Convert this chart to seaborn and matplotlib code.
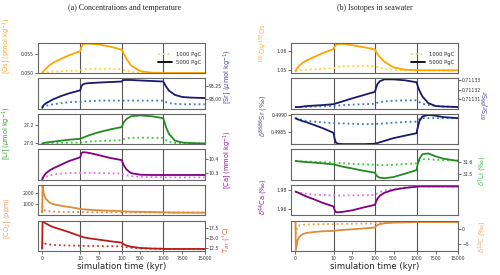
import numpy as np
import matplotlib
matplotlib.use("Agg")
import matplotlib.pyplot as plt
import seaborn as sns
from matplotlib.lines import Line2D
from matplotlib.ticker import FixedLocator, FormatStrFormatter, FuncFormatter

# ---------------- data (time in kyr) ----------------
T = [0, 0.1, 0.5, 1, 2, 3, 5, 7, 10, 12, 15, 20, 30, 50, 75, 100, 120, 150, 200, 300,
     500, 750, 1000, 1200, 1500, 2000, 3000, 5000, 7500, 10000, 15000]

os_5000 = [0.0500, 0.0502, 0.0507, 0.0512, 0.0521, 0.0528, 0.0538, 0.0547, 0.0558, 0.0568, 0.0575,
           0.0578, 0.0578, 0.0576, 0.0570, 0.0562, 0.0557, 0.0550, 0.0538, 0.0520, 0.0505, 0.0501,
           0.0500, 0.0500, 0.0500, 0.0500, 0.0500, 0.0500, 0.0500, 0.0500, 0.0500]
os_1000 = [0.0500, 0.0500, 0.0501, 0.0502, 0.0503, 0.0504, 0.0505, 0.0506, 0.0507, 0.0508, 0.0509,
           0.0510, 0.0511, 0.0511, 0.0511, 0.0510, 0.0509, 0.0508, 0.0506, 0.0503, 0.0501, 0.0500,
           0.0500, 0.0500, 0.0500, 0.0500, 0.0500, 0.0500, 0.0500, 0.0500, 0.0500]
sr_5000 = [92.83, 92.85, 92.89, 92.92, 92.96, 93.00, 93.06, 93.11, 93.17, 93.24, 93.28, 93.30, 93.31,
           93.32, 93.33, 93.34, 93.36, 93.37, 93.37, 93.37, 93.36, 93.35, 93.34, 93.32, 93.29, 93.24,
           93.16, 93.08, 93.04, 93.03, 93.02]
sr_1000 = [92.84, 92.85, 92.86, 92.87, 92.89, 92.90, 92.92, 92.94, 92.95, 92.95, 92.96, 92.96, 92.96,
           92.97, 92.97, 92.97, 92.97, 92.97, 92.97, 92.97, 92.97, 92.97, 92.97, 92.96, 92.95, 92.94,
           92.92, 92.91, 92.90, 92.90, 92.90]
li_5000 = [27.000, 27.000, 27.005, 27.010, 27.015, 27.020, 27.030, 27.040, 27.050, 27.055, 27.060,
           27.070, 27.090, 27.120, 27.150, 27.175, 27.200, 27.230, 27.260, 27.290, 27.300, 27.290,
           27.270, 27.250, 27.220, 27.170, 27.100, 27.030, 27.010, 27.005, 27.000]
li_1000 = [27.000, 27.000, 27.001, 27.002, 27.003, 27.004, 27.006, 27.008, 27.010, 27.011, 27.013,
           27.016, 27.020, 27.026, 27.031, 27.035, 27.040, 27.047, 27.055, 27.060, 27.062, 27.061,
           27.060, 27.055, 27.045, 27.033, 27.018, 27.006, 27.002, 27.001, 27.000]
ca_5000 = [10.255, 10.262, 10.280, 10.298, 10.318, 10.333, 10.358, 10.383, 10.410, 10.438, 10.445,
           10.445, 10.440, 10.425, 10.405, 10.390, 10.372, 10.350, 10.325, 10.298, 10.287, 10.285,
           10.285, 10.285, 10.285, 10.285, 10.285, 10.285, 10.285, 10.285, 10.285]
ca_1000 = [10.255, 10.258, 10.265, 10.273, 10.283, 10.289, 10.295, 10.298, 10.300, 10.300, 10.300,
           10.300, 10.300, 10.299, 10.297, 10.295, 10.292, 10.288, 10.283, 10.277, 10.272, 10.270,
           10.269, 10.268, 10.268, 10.268, 10.268, 10.268, 10.268, 10.268, 10.268]
co2_5000 = [280, 2550, 1800, 1450, 1120, 990, 860, 760, 600, 585, 570, 550, 520, 475, 435, 405, 395,
            385, 372, 358, 340, 322, 310, 305, 300, 293, 285, 278, 274, 272, 270]
co2_1000 = [280, 800, 520, 440, 385, 360, 340, 330, 320, 318, 315, 312, 308, 304, 301, 299, 298, 296,
            294, 292, 289, 287, 285, 284, 283, 282, 281, 280, 280, 280, 280]
tair_5000 = [12.3, 18.9, 18.8, 18.5, 18.0, 17.6, 17.0, 16.4, 15.4, 15.3, 15.2, 15.05, 14.85, 14.55,
             14.15, 13.8, 13.6, 13.35, 13.1, 12.8, 12.5, 12.35, 12.3, 12.28, 12.27, 12.26, 12.25,
             12.25, 12.25, 12.25, 12.25]
tair_1000 = [12.3, 14.0, 13.7, 13.5, 13.35, 13.25, 13.15, 13.1, 13.05, 13.04, 13.03, 13.0, 12.98,
             12.95, 12.92, 12.9, 12.85, 12.8, 12.7, 12.55, 12.4, 12.32, 12.3, 12.28, 12.27, 12.26,
             12.25, 12.25, 12.25, 12.25, 12.25]

osr_5000 = [1.0495, 1.0500, 1.0512, 1.0525, 1.0540, 1.0552, 1.0570, 1.0588, 1.0610, 1.0622, 1.0632,
            1.0637, 1.0637, 1.0630, 1.0620, 1.0608, 1.0597, 1.0585, 1.0570, 1.0545, 1.0515, 1.0503,
            1.0500, 1.0500, 1.0500, 1.0500, 1.0500, 1.0500, 1.0500, 1.0500, 1.0500]
osr_1000 = [1.0495, 1.0496, 1.0498, 1.0500, 1.0502, 1.0503, 1.0505, 1.0507, 1.0510, 1.0512, 1.0515,
            1.0518, 1.0521, 1.0522, 1.0522, 1.0521, 1.0520, 1.0517, 1.0513, 1.0508, 1.0502, 1.0500,
            1.0500, 1.0500, 1.0500, 1.0500, 1.0500, 1.0500, 1.0500, 1.0500, 1.0500]
srr_5000 = [0.711302, 0.711302, 0.711302, 0.711302, 0.7113025, 0.711303, 0.7113035, 0.711304,
            0.711305, 0.7113053, 0.7113058, 0.7113065, 0.711308, 0.711311, 0.7113145, 0.711318,
            0.711322, 0.711326, 0.711329, 0.711331, 0.711331, 0.711330, 0.711328, 0.711326,
            0.711323, 0.711319, 0.711313, 0.711306, 0.711303, 0.7113025, 0.711302]
srr_1000 = [0.711302, 0.711302, 0.711302, 0.711302, 0.711302, 0.7113022, 0.7113025, 0.7113028,
            0.711303, 0.711303, 0.7113032, 0.7113035, 0.711304, 0.7113045, 0.711305, 0.7113053,
            0.711306, 0.7113065, 0.711307, 0.711308, 0.7113085, 0.711309, 0.711309, 0.7113085,
            0.711308, 0.711307, 0.7113055, 0.711304, 0.711303, 0.7113025, 0.711302]
d88_5000 = [0.49890, 0.49889, 0.49887, 0.49885, 0.49881, 0.49878, 0.49870, 0.49862, 0.49848, 0.49832,
            0.49820, 0.49817, 0.49816, 0.49816, 0.49816, 0.49817, 0.49818, 0.49819, 0.49821, 0.49825,
            0.49833, 0.49840, 0.49847, 0.49856, 0.49867, 0.49882, 0.49895, 0.49899, 0.49897, 0.49893,
            0.49890]
d88_1000 = [0.49890, 0.49890, 0.49889, 0.49887, 0.49884, 0.49882, 0.49880, 0.49878, 0.49876, 0.49875,
            0.49875, 0.49875, 0.49875, 0.49874, 0.49873, 0.49873, 0.49873, 0.49874, 0.49874, 0.49875,
            0.49877, 0.49879, 0.49880, 0.49882, 0.49885, 0.49888, 0.49890, 0.49890, 0.49890, 0.49890,
            0.49890]
li7_5000 = [31.610, 31.609, 31.608, 31.606, 31.603, 31.600, 31.595, 31.590, 31.580, 31.578, 31.575,
            31.570, 31.560, 31.545, 31.525, 31.508, 31.490, 31.475, 31.465, 31.460, 31.470, 31.500,
            31.530, 31.560, 31.590, 31.630, 31.670, 31.675, 31.650, 31.630, 31.610]
li7_1000 = [31.610, 31.610, 31.609, 31.608, 31.606, 31.605, 31.603, 31.600, 31.597, 31.596, 31.595,
            31.593, 31.590, 31.585, 31.580, 31.577, 31.576, 31.575, 31.574, 31.574, 31.577, 31.583,
            31.590, 31.597, 31.605, 31.615, 31.625, 31.625, 31.620, 31.617, 31.615]
ca44_5000 = [1.9785, 1.9782, 1.9777, 1.9768, 1.9748, 1.9732, 1.9702, 1.9670, 1.9630, 1.9595, 1.9572,
             1.9570, 1.9575, 1.9590, 1.9620, 1.9648, 1.9680, 1.9710, 1.9740, 1.9772, 1.9803, 1.9823,
             1.9835, 1.9837, 1.9838, 1.9838, 1.9838, 1.9838, 1.9838, 1.9838, 1.9838]
ca44_1000 = [1.9785, 1.9783, 1.9778, 1.9772, 1.9765, 1.9760, 1.9753, 1.9749, 1.9746, 1.9745, 1.9745,
             1.9745, 1.9745, 1.9746, 1.9747, 1.9748, 1.9755, 1.9765, 1.9778, 1.9795, 1.9812, 1.9826,
             1.9833, 1.9836, 1.9838, 1.9838, 1.9838, 1.9838, 1.9838, 1.9838, 1.9838]
d13c_5000 = [2.1, -7.0, -4.0, -2.6, -1.7, -1.35, -1.05, -0.85, -0.7, -0.65, -0.6, -0.5, -0.4, -0.2,
             0.1, 0.4, 0.8, 1.2, 1.5, 1.8, 2.0, 2.1, 2.15, 2.2, 2.2, 2.2, 2.2, 2.2, 2.2, 2.2, 2.2]
d13c_1000 = [2.1, -1.5, 0.6, 1.1, 1.3, 1.4, 1.45, 1.5, 1.5, 1.5, 1.55, 1.55, 1.6, 1.65, 1.7, 1.75,
             1.85, 1.95, 2.0, 2.1, 2.15, 2.2, 2.2, 2.2, 2.2, 2.2, 2.2, 2.2, 2.2, 2.2, 2.2]

x_ticks = [0, 10, 50, 100, 500, 1000, 7500, 15000]
x_ticklabels = ["0", "10", "50", "100", "500", "1000", "7500", "15000"]
segment_bounds = [10, 100, 1000]
legend_labels = ["1000 PgC", "5000 PgC"]
titles = ["(a) Concentrations and temperature", "(b) Isotopes in seawater"]

# ---------------- piecewise time scale ----------------
_xp = [-10, 0, 10, 100, 1000, 15000]
_fp = [-0.84, 0.08, 1, 2, 3, 4]


def fwd(t):
    return np.interp(t, _xp, _fp)


def inv(u):
    return np.interp(u, _fp, _xp)


sns.set_style("ticks")
plt.rcParams["font.family"] = ["DejaVu Sans"]
plt.rcParams["axes.edgecolor"] = "#666666"
plt.rcParams["axes.linewidth"] = 0.8

fig = plt.figure(figsize=(5, 2.75), dpi=100)
gs = fig.add_gridspec(6, 2, left=0.076, right=0.916, top=0.844, bottom=0.0873,
                      hspace=0.165, wspace=0.52)

# (solid, dotted, solid colour, dotted colour, label, label colour, side, yticks, fmt, ylim, label y)
col_a = [
    (os_5000, os_1000, "#ffa500", "#ffd21f", "[Os] (pmol kg$^{-1}$)", "#ffa520", "left",
     [0.050, 0.055], "%.3f", (0.0499, 0.0580), 0.90),
    (sr_5000, sr_1000, "#191970", "#3a78b8", "[Sr] ($\\mu$mol kg$^{-1}$)", "#4a4aa8", "right",
     [93.00, 93.25], "%.2f", (92.81, 93.40), 1.06),
    (li_5000, li_1000, "#228b22", "#38c838", "[Li] ($\\mu$mol kg$^{-1}$)", "#30a030", "left",
     [27.0, 27.2], "%.1f", (26.99, 27.315), 0.36),
    (ca_5000, ca_1000, "#800080", "#e070e0", "[Ca] (mmol kg$^{-1}$)", "#901890", "right",
     [10.3, 10.4], "%.1f", (10.25, 10.465), 0.66),
    (co2_5000, co2_1000, "#e08a3a", "#e08a3a", "[CO$_2$] (ppm)", "#f0a060", "left",
     [1000, 2000], "%d", (30, 2650), -0.08),
    (tair_5000, tair_1000, "#b81c1c", "#c83030", "T$_{air}$ ($^{\\circ}$C)", "#d85040", "right",
     [12.5, 15.0, 17.5], "%.1f", (11.75, 19.25), 0.39),
]
col_b = [
    (osr_5000, osr_1000, "#ffa500", "#ffd21f", "$^{187}$Os/$^{188}$Os", "#ffb040", "left",
     [1.05, 1.06], "%.2f", (1.0484, 1.0642), 1.00),
    (srr_5000, srr_1000, "#191970", "#3a78b8", "$^{87}$Sr/$^{86}$Sr", "#4a4aa8", "right",
     [0.71131, 0.71132, 0.71133], "%.5f", (0.7113, 0.711332), 0.13),
    (d88_5000, d88_1000, "#191970", "#3a78b8", "$\\delta^{88/86}$Sr (‰)", "#4a4aa8", "left",
     [0.4985, 0.4990], "%.4f", (0.49815, 0.49902), 0.93),
    (li7_5000, li7_1000, "#228b22", "#38c838", "$\\delta^{7}$Li (‰)", "#40b840", "right",
     [31.5, 31.6], "%.1f", (31.445, 31.71), 0.30),
    (ca44_5000, ca44_1000, "#800080", "#e070e0", "$\\delta^{44}$Ca (‰)", "#901890", "left",
     [1.96, 1.98], "%.2f", (1.9537, 1.9853), 0.61),
    (d13c_5000, d13c_1000, "#e08a3a", "#f0a040", "$\\delta^{13}$C (‰)", "#f0a060", "right",
     [-5, 0], "%d", (-7.3, 2.7), 0.46),
]

label_x = {0: {"left": -0.15, "right": 1.10}, 1: {"left": -0.125, "right": 1.11}}
label_x_override = {(1, 1): 1.135}

for ci, spec in enumerate([col_a, col_b]):
    for ri, (s5, s1, c5, c1, lab, lc, side, yt, fmt, ylim, ly) in enumerate(spec):
        ax = fig.add_subplot(gs[ri, ci])
        ax.set_xscale("function", functions=(fwd, inv))
        sns.lineplot(x=T, y=s1, ax=ax, color=c1, lw=1.3, linestyle=":")
        sns.lineplot(x=T, y=s5, ax=ax, color=c5, lw=1.3)
        for b in segment_bounds:
            ax.axvline(b, color="#555555", lw=0.8, zorder=0)
        ax.set_xlim(-1.09, 15000)
        ax.set_ylim(*ylim)
        ax.yaxis.set_major_locator(FixedLocator(yt))
        if fmt == "%d":
            ax.yaxis.set_major_formatter(FuncFormatter(lambda v, p: f"{int(round(v))}".replace("-", "\u2212")))
        else:
            ax.yaxis.set_major_formatter(FormatStrFormatter(fmt))
        if side == "right":
            ax.yaxis.tick_right()
            ax.yaxis.set_label_position("right")
        ax.set_ylabel(lab, color=lc, fontsize=4.8)
        ax.yaxis.set_label_coords(label_x_override.get((ci, ri), label_x[ci][side]), ly)
        ax.tick_params(axis="y", labelsize=3.3, length=2, width=0.5, pad=1, colors="#333333")
        ax.tick_params(axis="x", labelsize=3.3, length=2, width=0.5, pad=1.5, colors="#333333")
        ax.xaxis.set_major_locator(FixedLocator(x_ticks))
        ax.xaxis.set_minor_locator(FixedLocator([]))
        if ri == 5:
            ax.set_xticklabels(x_ticklabels)
            ax.set_xlabel("simulation time (kyr)", fontsize=6.1, labelpad=1)
        else:
            ax.tick_params(axis="x", length=0, labelbottom=False)
        if ri == 0:
            handles = [Line2D([], [], color="#e8d67a", ls=":", lw=1.3),
                       Line2D([], [], color="black", lw=1.3)]
            ax.legend(handles, legend_labels, loc="center right", frameon=False, fontsize=3.8,
                      handlelength=2.6, borderaxespad=0.3, labelspacing=0.6)

fig.text(0.25, 0.972, titles[0], ha="center", va="center", fontsize=5.8,
         family="Liberation Serif")
fig.text(0.75, 0.972, titles[1], ha="center", va="center", fontsize=5.8,
         family="Liberation Serif")

fig.savefig("out.png", dpi=100)
